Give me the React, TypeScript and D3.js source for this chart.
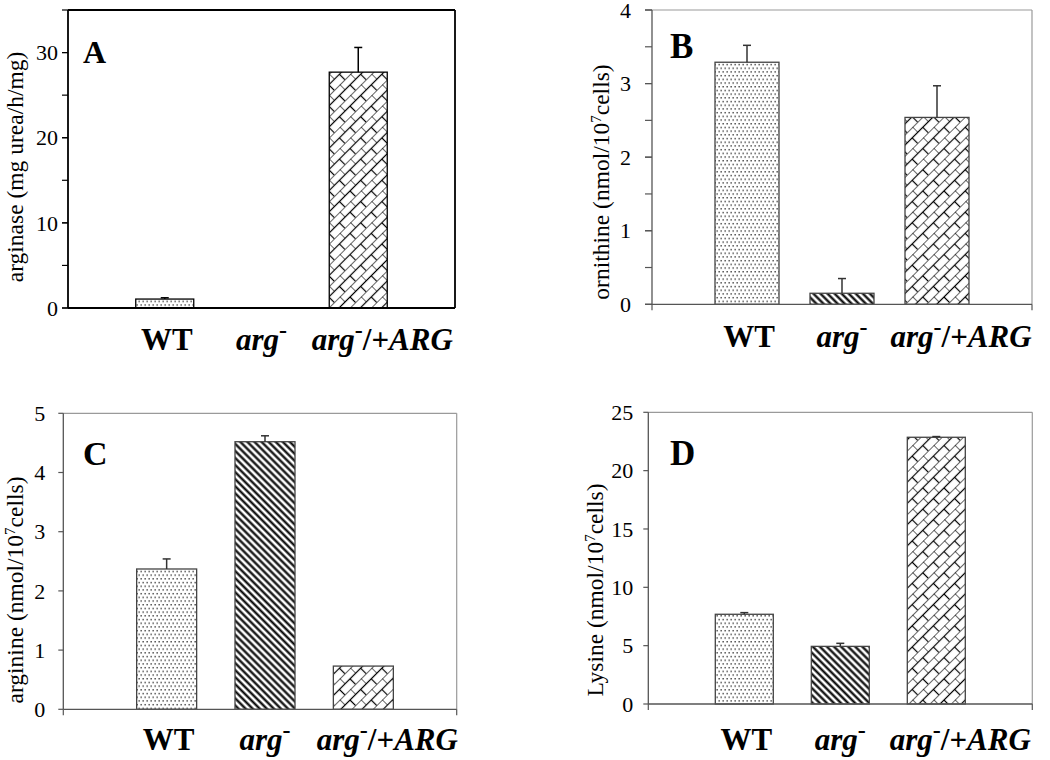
import React from "react";
import * as d3 from "d3";

// categories shared by all four panels
const categories = ["WT", "arg-", "arg-/+ARG"];
const patterns = ["dots", "stripes", "bricks"];

// A: arginase activity
const arginaseMean = [1.05, 0, 27.7];
const arginaseErr = [0.15, 0, 2.9];
const ticksA = [0, 10, 20, 30];

// B: ornithine
const ornithineMean = [3.29, 0.15, 2.54];
const ornithineErr = [0.23, 0.2, 0.43];
const ticksB = [0, 1, 2, 3, 4];

// C: arginine
const arginineMean = [2.37, 4.52, 0.73];
const arginineErr = [0.17, 0.1, 0];
const ticksC = [0, 1, 2, 3, 4, 5];

// D: lysine
const lysineMean = [7.69, 4.94, 22.86];
const lysineErr = [0.14, 0.26, 0.06];
const ticksD = [0, 5, 10, 15, 20, 25];

const panels = [
  {
    letter: "A", yLabel: ["arginase (mg urea/h/mg)", "", ""], means: arginaseMean, errs: arginaseErr, ticks: ticksA,
    max: 35, minor: 5,
    g: { left: 68, right: 455, top: 10, bottom: 308, gap: 10, barW: 58, shift: 0, tickLen: 6, box: true,
      labelY: 350, letterX: 83, letterY: 63, letterSize: 32, yLabX: 23, yLabY: 167 },
  },
  {
    letter: "B", yLabel: ["ornithine (nmol/10", "7", "cells)"], means: ornithineMean, errs: ornithineErr, ticks: ticksB,
    max: 4, minor: 0.5,
    g: { left: 652, right: 1032, top: 10, bottom: 304.3, gap: 21, barW: 64, shift: 0, tickLen: 7, box: false,
      labelY: 347, letterX: 670, letterY: 58, letterSize: 35, yLabX: 609, yLabY: 182 },
  },
  {
    letter: "C", yLabel: ["arginine (nmol/10", "7", "cells)"], means: arginineMean, errs: arginineErr, ticks: ticksC,
    max: 5, minor: 0,
    g: { left: 63.3, right: 456.7, top: 413.3, bottom: 709.3, gap: 18, barW: 60, shift: 5, tickLen: 5, box: false,
      labelY: 750, letterX: 83, letterY: 465, letterSize: 34, yLabX: 23, yLabY: 590 },
  },
  {
    letter: "D", yLabel: ["Lysine (nmol/10", "7", "cells)"], means: lysineMean, errs: lysineErr, ticks: ticksD,
    max: 25, minor: 0,
    g: { left: 648.3, right: 1032.3, top: 412.3, bottom: 704, gap: 15, barW: 58, shift: 0, tickLen: 5, box: false,
      labelY: 750, letterX: 670, letterY: 465, letterSize: 35, yLabX: 603, yLabY: 590 },
  },
];

const labelOffsets = [2, 0, 24];
const serif = "'Liberation Serif', 'Times New Roman', serif";

function CatLabel({ name, x, y }: { name: string; x: number; y: number }) {
  const common = { fontFamily: serif, fontSize: 31, fontWeight: 700, textAnchor: "middle" as const };
  if (name === "WT") {
    return <text x={x} y={y} {...common}>WT</text>;
  }
  if (name === "arg-") {
    return (
      <text x={x} y={y} {...common}>
        <tspan fontStyle="italic">arg</tspan>
        <tspan dy={-12} fontSize={24}>-</tspan>
      </text>
    );
  }
  return (
    <text x={x} y={y} {...common}>
      <tspan fontStyle="italic">arg</tspan>
      <tspan dy={-12} fontSize={24}>-</tspan>
      <tspan dy={12}>/+</tspan>
      <tspan fontStyle="italic">ARG</tspan>
    </text>
  );
}

function Panel({ p }: { p: (typeof panels)[number] }) {
  const g = p.g;
  const x = d3.scaleLinear().domain([0, 4]).range([g.left + g.shift, g.right + g.shift]);
  const y = d3.scaleLinear().domain([0, p.max]).range([g.bottom, g.top]);
  const axisColor = g.box ? "#000" : "#555";
  const borderColor = g.box ? "#000" : "#9a9a9a";
  const axisW = g.box ? 1.8 : 1.3;
  const minorTicks = p.minor ? d3.range(0, p.max + 1e-9, p.minor) : [];
  const edgeStroke = g.box ? "#000" : "#444";

  return (
    <g>
      {/* top / right border */}
      <line x1={g.left} x2={g.right} y1={g.top} y2={g.top} stroke={borderColor} strokeWidth={g.box ? 1.8 : 1.2} />
      <line x1={g.right} x2={g.right} y1={g.top} y2={g.bottom} stroke={borderColor} strokeWidth={g.box ? 1.8 : 1.2} />

      {/* bars */}
      {categories.map((c, i) =>
        p.means[i] > 0 ? (
          <rect key={c} x={x(i + 1) - g.barW / 2} y={y(p.means[i])} width={g.barW} height={y(0) - y(p.means[i])}
            fill={`url(#${patterns[i]})`} stroke={edgeStroke} strokeWidth={1.3} />
        ) : null
      )}

      {/* error bars, upper half only */}
      {categories.map((c, i) =>
        p.means[i] > 0 && p.errs[i] > 0 ? (
          <g key={c} stroke={g.box ? "#000" : "#333"} strokeWidth={1.5}>
            <line x1={x(i + 1)} x2={x(i + 1)} y1={y(p.means[i])} y2={y(p.means[i] + p.errs[i])} />
            <line x1={x(i + 1) - 4} x2={x(i + 1) + 4} y1={y(p.means[i] + p.errs[i])} y2={y(p.means[i] + p.errs[i])} />
          </g>
        ) : null
      )}

      {/* y axis */}
      <line x1={g.left} x2={g.left} y1={g.top} y2={g.bottom} stroke={axisColor} strokeWidth={axisW} />
      {minorTicks.map((t) => (
        <line key={"m" + t} x1={g.left - g.tickLen} x2={g.left} y1={y(t)} y2={y(t)} stroke={axisColor} strokeWidth={1.2} />
      ))}
      {p.ticks.map((t) => (
        <g key={t}>
          <line x1={g.left - g.tickLen} x2={g.left} y1={y(t)} y2={y(t)} stroke={axisColor} strokeWidth={1.2} />
          <text x={g.left - g.gap} y={y(t)} dy="0.35em" textAnchor="end" fontFamily={serif} fontSize={22}>
            {t}
          </text>
        </g>
      ))}

      {/* x axis */}
      <line x1={g.left} x2={g.right} y1={g.bottom} y2={g.bottom} stroke={axisColor} strokeWidth={axisW} />
      {!g.box &&
        [0, 4].map((t) => (
          <line key={t} x1={x(t) - g.shift} x2={x(t) - g.shift} y1={g.bottom} y2={g.bottom + 6} stroke={axisColor} strokeWidth={1.2} />
        ))}

      {/* panel letter */}
      <text x={g.letterX} y={g.letterY} fontFamily={serif} fontWeight={700} fontSize={g.letterSize}>
        {p.letter}
      </text>

      {/* y axis title */}
      <text transform={`translate(${g.yLabX},${g.yLabY}) rotate(-90)`} textAnchor="middle" fontFamily={serif} fontSize={23.5}>
        {p.yLabel[0]}
        {p.yLabel[1] && (
          <>
            <tspan dy={-8} fontSize={15}>{p.yLabel[1]}</tspan>
            <tspan dy={8}>{p.yLabel[2]}</tspan>
          </>
        )}
      </text>

      {/* category labels */}
      {categories.map((c, i) => (
        <CatLabel key={c} name={c} x={x(i + 1) + labelOffsets[i]} y={g.labelY} />
      ))}
    </g>
  );
}

export default function App() {
  return (
    <svg width={1050} height={760} style={{ position: "absolute", left: 0, top: 0, background: "#fff" }}>
      <defs>
        <pattern id="dots" width={4} height={7.4} patternUnits="userSpaceOnUse">
          <rect width={4} height={7.4} fill="#fff" />
          <rect x={0.5} y={1} width={1.3} height={1.3} fill="#222" />
          <rect x={2.5} y={4.7} width={1.3} height={1.3} fill="#222" />
        </pattern>
        <pattern id="stripes" width={5} height={5} patternUnits="userSpaceOnUse" patternTransform="rotate(45)">
          <rect width={5} height={5} fill="#fff" />
          <line x1={0} x2={5} y1={2.5} y2={2.5} stroke="#000" strokeWidth={2.2} />
        </pattern>
        <pattern id="bricks" width={15} height={15} patternUnits="userSpaceOnUse" patternTransform="rotate(-45)">
          <rect width={15} height={15} fill="#fff" />
          <g stroke="#000" strokeWidth={1.2}>
            <line x1={0} x2={15} y1={0} y2={0} />
            <line x1={0} x2={15} y1={7.5} y2={7.5} />
            <line x1={0} x2={0} y1={0} y2={7.5} />
            <line x1={7.5} x2={7.5} y1={7.5} y2={15} />
          </g>
        </pattern>
      </defs>
      {panels.map((p) => (
        <Panel key={p.letter} p={p} />
      ))}
    </svg>
  );
}
